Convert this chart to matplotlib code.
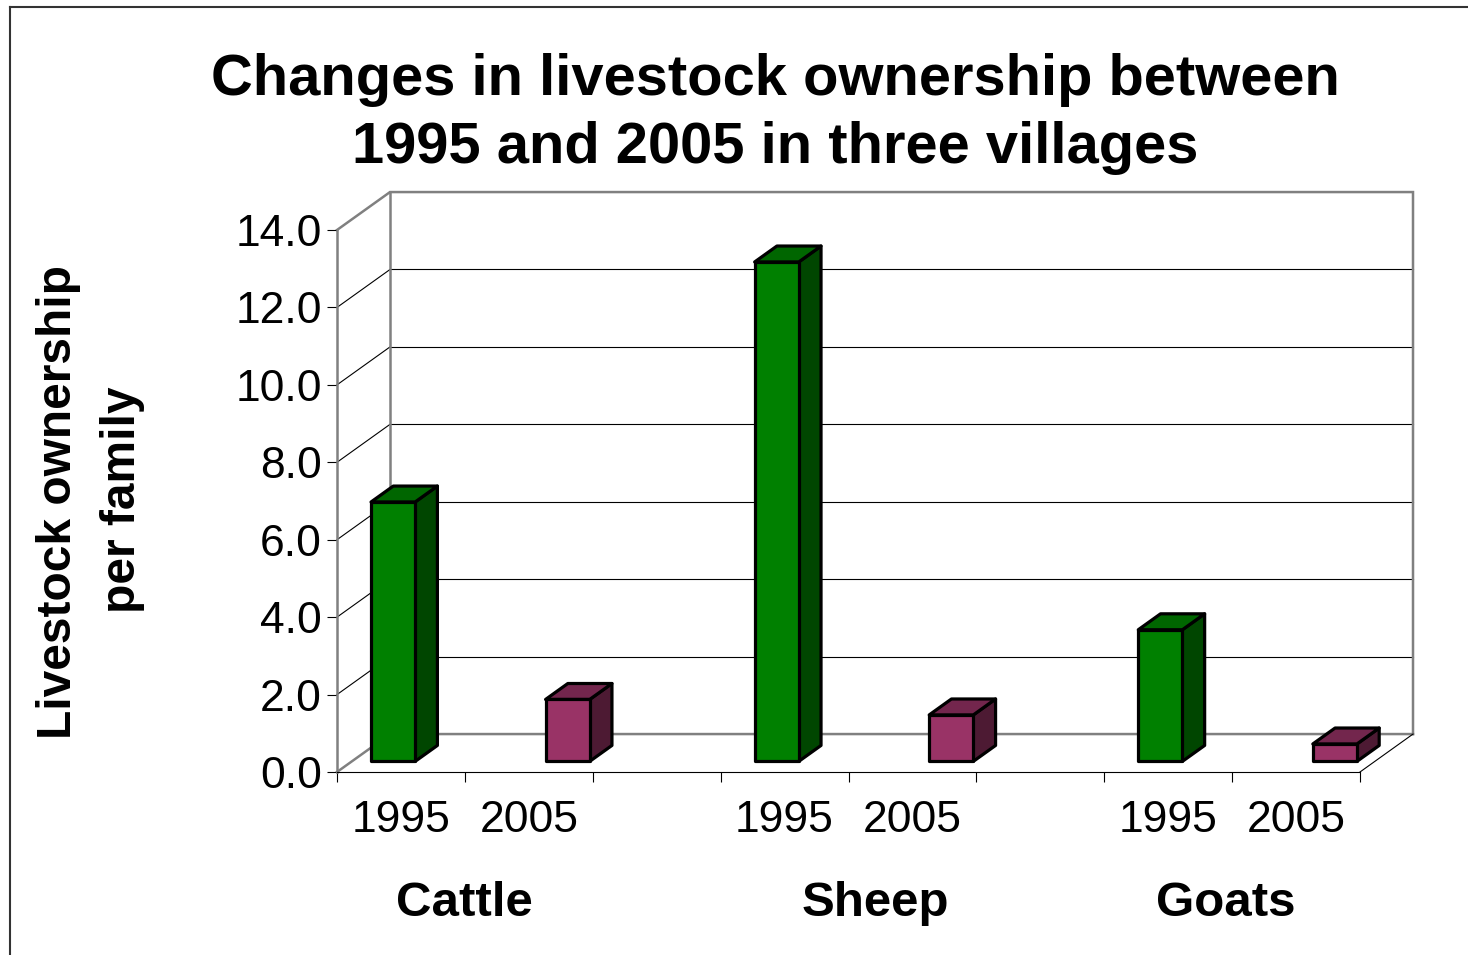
import numpy as np
import matplotlib.pyplot as plt
from matplotlib.patches import Polygon
from matplotlib.lines import Line2D

plt.rcParams['font.family'] = ['Liberation Sans', 'DejaVu Sans']

# data
animals = ['Cattle', 'Sheep', 'Goats']
years = ['1995', '2005']
own_1995 = [6.7, 12.9, 3.4]
own_2005 = [1.6, 1.2, 0.45]
y_ticks = [0, 2, 4, 6, 8, 10, 12, 14]

# front / top / side colours per year
face_cols = {'1995': ('#008000', '#006600', '#004600'),
             '2005': ('#993366', '#73264d', '#4d1a33')}

W, H = 1468, 955
fig = plt.figure(figsize=(W / 100, H / 100), dpi=100)
ax = fig.add_axes([337 / W, 183 / H, 1023 / W, 542 / H])
n_slots = 8
ax.set_xlim(0, n_slots)
ax.set_ylim(0, y_ticks[-1])

# depth of the fake 3d box (data units) and where the bars sit in it
DX, DY = 0.4145, 0.98
f0, f1 = 0.28, 0.70
bar_w = 0.345
bar_off = [0.15, 0.515]
# group label positions (slot units), as placed in the original
label_x = [1.0, 4.21, 6.95]

ymax = y_ticks[-1]
gray = '#808080'

# walls: grid lines
for v in y_ticks[1:-1]:
    ax.plot([DX, n_slots + DX], [v + DY, v + DY], color='black', lw=0.8, zorder=1, clip_on=False)
    ax.plot([0, DX], [v, v + DY], color='black', lw=0.8, zorder=1, clip_on=False)

# wall / floor edges
ax.plot([0, DX, n_slots + DX, n_slots + DX], [ymax, ymax + DY, ymax + DY, DY],
        color=gray, lw=1.8, zorder=1, clip_on=False, solid_joinstyle='miter')
ax.plot([DX, DX], [DY, ymax + DY], color=gray, lw=1.8, zorder=1, clip_on=False)
ax.plot([0, DX, n_slots + DX], [0, DY, DY], color=gray, lw=1.8, zorder=1, clip_on=False)
ax.plot([n_slots, n_slots + DX], [0, DY], color='black', lw=0.8, zorder=1, clip_on=False)

# bars
for j, (yr, vals) in enumerate(zip(years, [own_1995, own_2005])):
    front, top, side = face_cols[yr]
    for g, v in enumerate(vals):
        x0 = 3 * g + j + bar_off[j]
        x1 = x0 + bar_w
        a = (f0 * DX, f0 * DY)
        b = (f1 * DX, f1 * DY)
        kw = dict(edgecolor='black', lw=2.3, joinstyle='round', zorder=3, clip_on=False)
        ax.add_patch(Polygon([(x1 + a[0], a[1]), (x1 + b[0], b[1]),
                              (x1 + b[0], v + b[1]), (x1 + a[0], v + a[1])],
                             facecolor=side, **kw))
        ax.add_patch(Polygon([(x0 + a[0], v + a[1]), (x1 + a[0], v + a[1]),
                              (x1 + b[0], v + b[1]), (x0 + b[0], v + b[1])],
                             facecolor=top, **kw))
        ax.add_patch(Polygon([(x0 + a[0], a[1]), (x1 + a[0], a[1]),
                              (x1 + a[0], v + a[1]), (x0 + a[0], v + a[1])],
                             facecolor=front, **kw))

# axes
for s in ['top', 'right']:
    ax.spines[s].set_visible(False)
ax.spines['left'].set_color(gray)
ax.spines['left'].set_linewidth(1.8)
ax.spines['bottom'].set_color('black')
ax.spines['bottom'].set_linewidth(0.8)
ax.patch.set_visible(False)

ax.set_yticks(y_ticks)
ax.set_yticklabels([f'{t:.1f}' for t in y_ticks], fontsize=32)
ax.tick_params(axis='y', direction='out', length=7, width=0.8, pad=4)

ax.set_xticks(range(n_slots + 1))
ax.set_xticklabels([])
ax.tick_params(axis='x', which='major', direction='out', length=7, width=0.8)
year_pos = [3 * g + j + 0.5 for g in range(len(animals)) for j in range(len(years))]
ax.set_xticks(year_pos, minor=True)
ax.set_xticklabels(years * len(animals), minor=True, fontsize=32)
ax.tick_params(axis='x', which='minor', length=0, pad=20)

for g, name in enumerate(animals):
    ax.text(label_x[g], -0.242, name, transform=ax.get_xaxis_transform(),
            ha='center', va='center', fontsize=35.5, fontweight='bold')

# y label (two lines)
fig.text(71 / W, 1 - 502 / H, 'Livestock ownership', rotation=90, rotation_mode='anchor',
         ha='center', va='baseline', fontsize=34.5, fontweight='bold')
fig.text(135 / W, 1 - 500 / H, 'per family', rotation=90, rotation_mode='anchor',
         ha='center', va='baseline', fontsize=34.5, fontweight='bold')

# title
fig.text(775 / W, 1 - 95 / H, 'Changes in livestock ownership between',
         ha='center', va='baseline', fontsize=41.7, fontweight='bold')
fig.text(775 / W, 1 - 163 / H, '1995 and 2005 in three villages',
         ha='center', va='baseline', fontsize=41.7, fontweight='bold')

# outer frame (left and top only are visible)
fig.add_artist(Line2D([10 / W, 10 / W], [0, 1 - 7 / H], color='#333333', lw=1.5))
fig.add_artist(Line2D([10 / W, 1], [1 - 7 / H, 1 - 7 / H], color='#333333', lw=1.5))

fig.savefig('out.png', dpi=100)
